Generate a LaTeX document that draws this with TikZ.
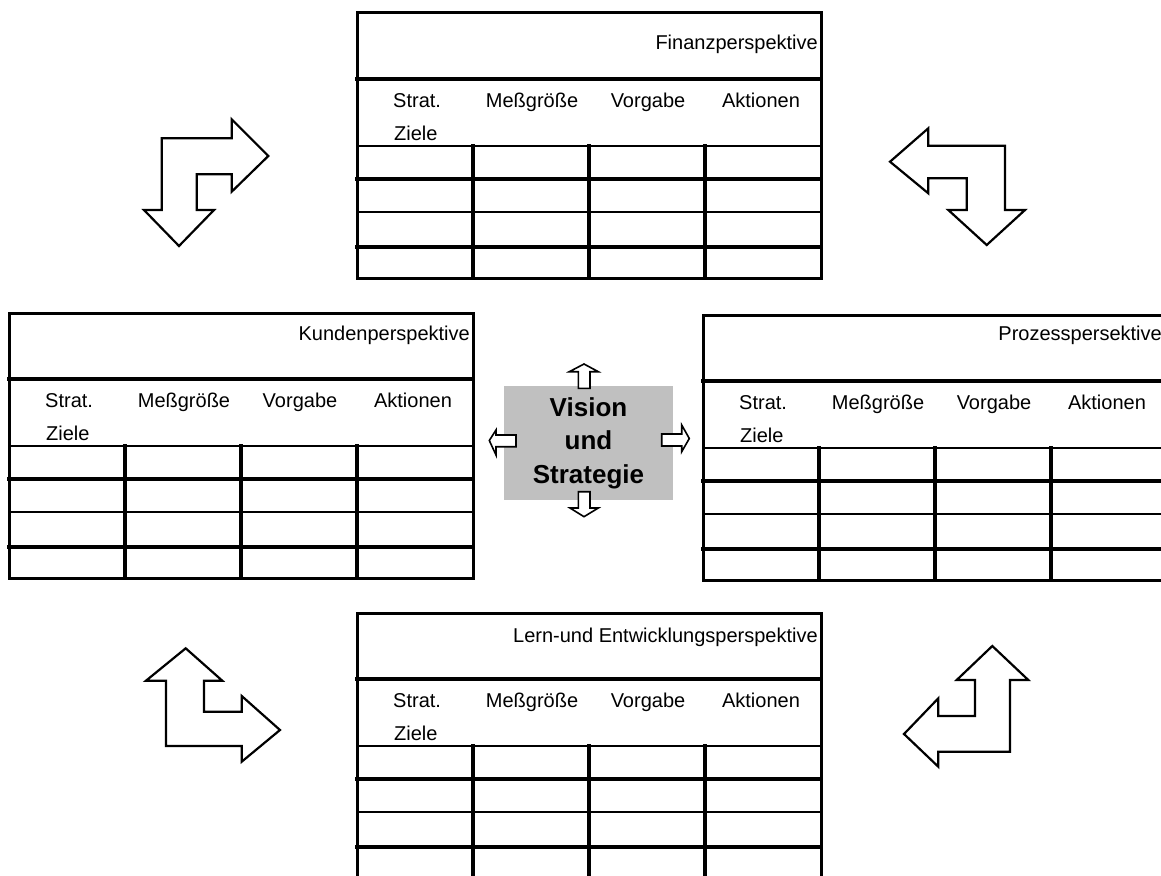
\documentclass[tikz,border=0pt]{standalone}
\usepackage{fontspec}
\setmainfont{Liberation Sans}
\definecolor{boxgray}{RGB}{192,192,192}
\tikzset{
  gridline/.style={line width=3.6pt, line cap=rect},
  thingrid/.style={line width=2.8pt, line cap=rect},
  outline/.style={line width=3pt},
  ttl/.style={inner sep=0pt, font=\fontsize{20}{24}\selectfont},
  hdr/.style={inner sep=0pt, font=\fontsize{20}{24}\selectfont},
  bigarrow/.style={draw=black, fill=white, line width=2.2pt, line join=miter},
  smallarrow/.style={draw=black, fill=white, line width=1.6pt, line join=miter},
  visionbox/.style={fill=boxgray, draw=none, minimum width=169pt, minimum height=114pt,
    inner sep=0pt, align=center, font=\fontsize{26}{33.5}\selectfont\bfseries}
}
\newcommand\bsctab[6]{%
  \begin{scope}[shift={(#2,#3)}]
    \draw[outline] (0,0) rectangle (464,265);
    \draw[gridline] (0,66) -- (464,66);
    \draw[thingrid] (0,133) -- (464,133);
    \draw[gridline] (0,166) -- (464,166);
    \draw[thingrid] (0,199) -- (464,199);
    \draw[gridline] (0,234) -- (464,234);
    \draw[gridline] (116,133) -- (116,265);
    \draw[gridline] (232,133) -- (232,265);
    \draw[gridline] (348,133) -- (348,265);
    \node[ttl, anchor=base east] (#1-title) at (#6,#5) {#4};
    \node[hdr, anchor=base west] (#1-strat) at (36,94) {Strat.};
    \node[hdr, anchor=base west] (#1-ziele) at (37,127) {Ziele};
    \node[hdr, anchor=base] (#1-mess) at (175,94) {Meßgröße};
    \node[hdr, anchor=base] (#1-vorg) at (291,94) {Vorgabe};
    \node[hdr, anchor=base] (#1-akt) at (404,94) {Aktionen};
  \end{scope}}
\begin{document}
\begin{tikzpicture}[x=1pt, y=-1pt]
  \useasboundingbox (0,0) rectangle (1161,875);
  \clip (0,0) rectangle (1161,875);
  \fill[white] (0,0) rectangle (1161,875);

  % tables
  \bsctab{fin}{357}{13}{Finanzperspektive}{36}{461}
  \bsctab{kun}{9}{313}{Kundenperspektive}{27}{461}
  \bsctab{pro}{703}{315}{Prozesspersektive}{25}{459}
  \bsctab{ler}{357}{613}{Lern-und Entwicklungsperspektive}{29}{461}

  % centre box
  \node[visionbox] (vision) at (588.5,443) {Vision\\und\\Strategie};

  % small arrows around the centre box
  \draw[smallarrow] (584,364) -- (598.3,371.7) -- (590,371.7) -- (590,388.3)
    -- (578.3,388.3) -- (578.3,371.7) -- (569.3,371.7) -- cycle;
  \draw[smallarrow] (584,516.7) -- (598.3,508) -- (590,508) -- (590,491.7)
    -- (578.3,491.7) -- (578.3,508) -- (570,508) -- cycle;
  \draw[smallarrow] (489.3,440.5) -- (496,430) -- (496,435) -- (516,435)
    -- (516,446.7) -- (496,446.7) -- (496,455) -- cycle;
  \draw[smallarrow] (689.3,438.5) -- (681.7,425) -- (681.7,434) -- (661.7,434)
    -- (661.7,446) -- (681.7,446) -- (681.7,451.7) -- cycle;

  % big bent arrows
  \draw[bigarrow] (179,246) -- (144,210) -- (161.7,210) -- (161.7,138.3)
    -- (231.7,138.3) -- (231.7,119.3) -- (268.3,156) -- (231.7,191.7)
    -- (231.7,174.3) -- (196.7,174.3) -- (196.7,210) -- (214,210) -- cycle;
  \draw[bigarrow] (890,161.7) -- (928.3,128.3) -- (928.3,145.7) -- (1005,145.7)
    -- (1005,210) -- (1025,210) -- (986.7,245) -- (948.3,210) -- (966.7,210)
    -- (966.7,178.3) -- (928.3,178.3) -- (928.3,193.3) -- cycle;
  \draw[bigarrow] (185.7,648.3) -- (222.3,680.7) -- (204,680.7) -- (204,711.7)
    -- (241.7,711.7) -- (241.7,696) -- (280,730) -- (241.7,761.7) -- (241.7,746)
    -- (166,746) -- (166,680.7) -- (146,680.7) -- cycle;
  \draw[bigarrow] (992.3,646) -- (1028.3,680) -- (1010,680) -- (1010,751.7)
    -- (938.3,751.7) -- (938.3,766.7) -- (904,734) -- (938.3,698.3) -- (938.3,716)
    -- (975,716) -- (975,680) -- (956.7,680) -- cycle;
\end{tikzpicture}
\end{document}
